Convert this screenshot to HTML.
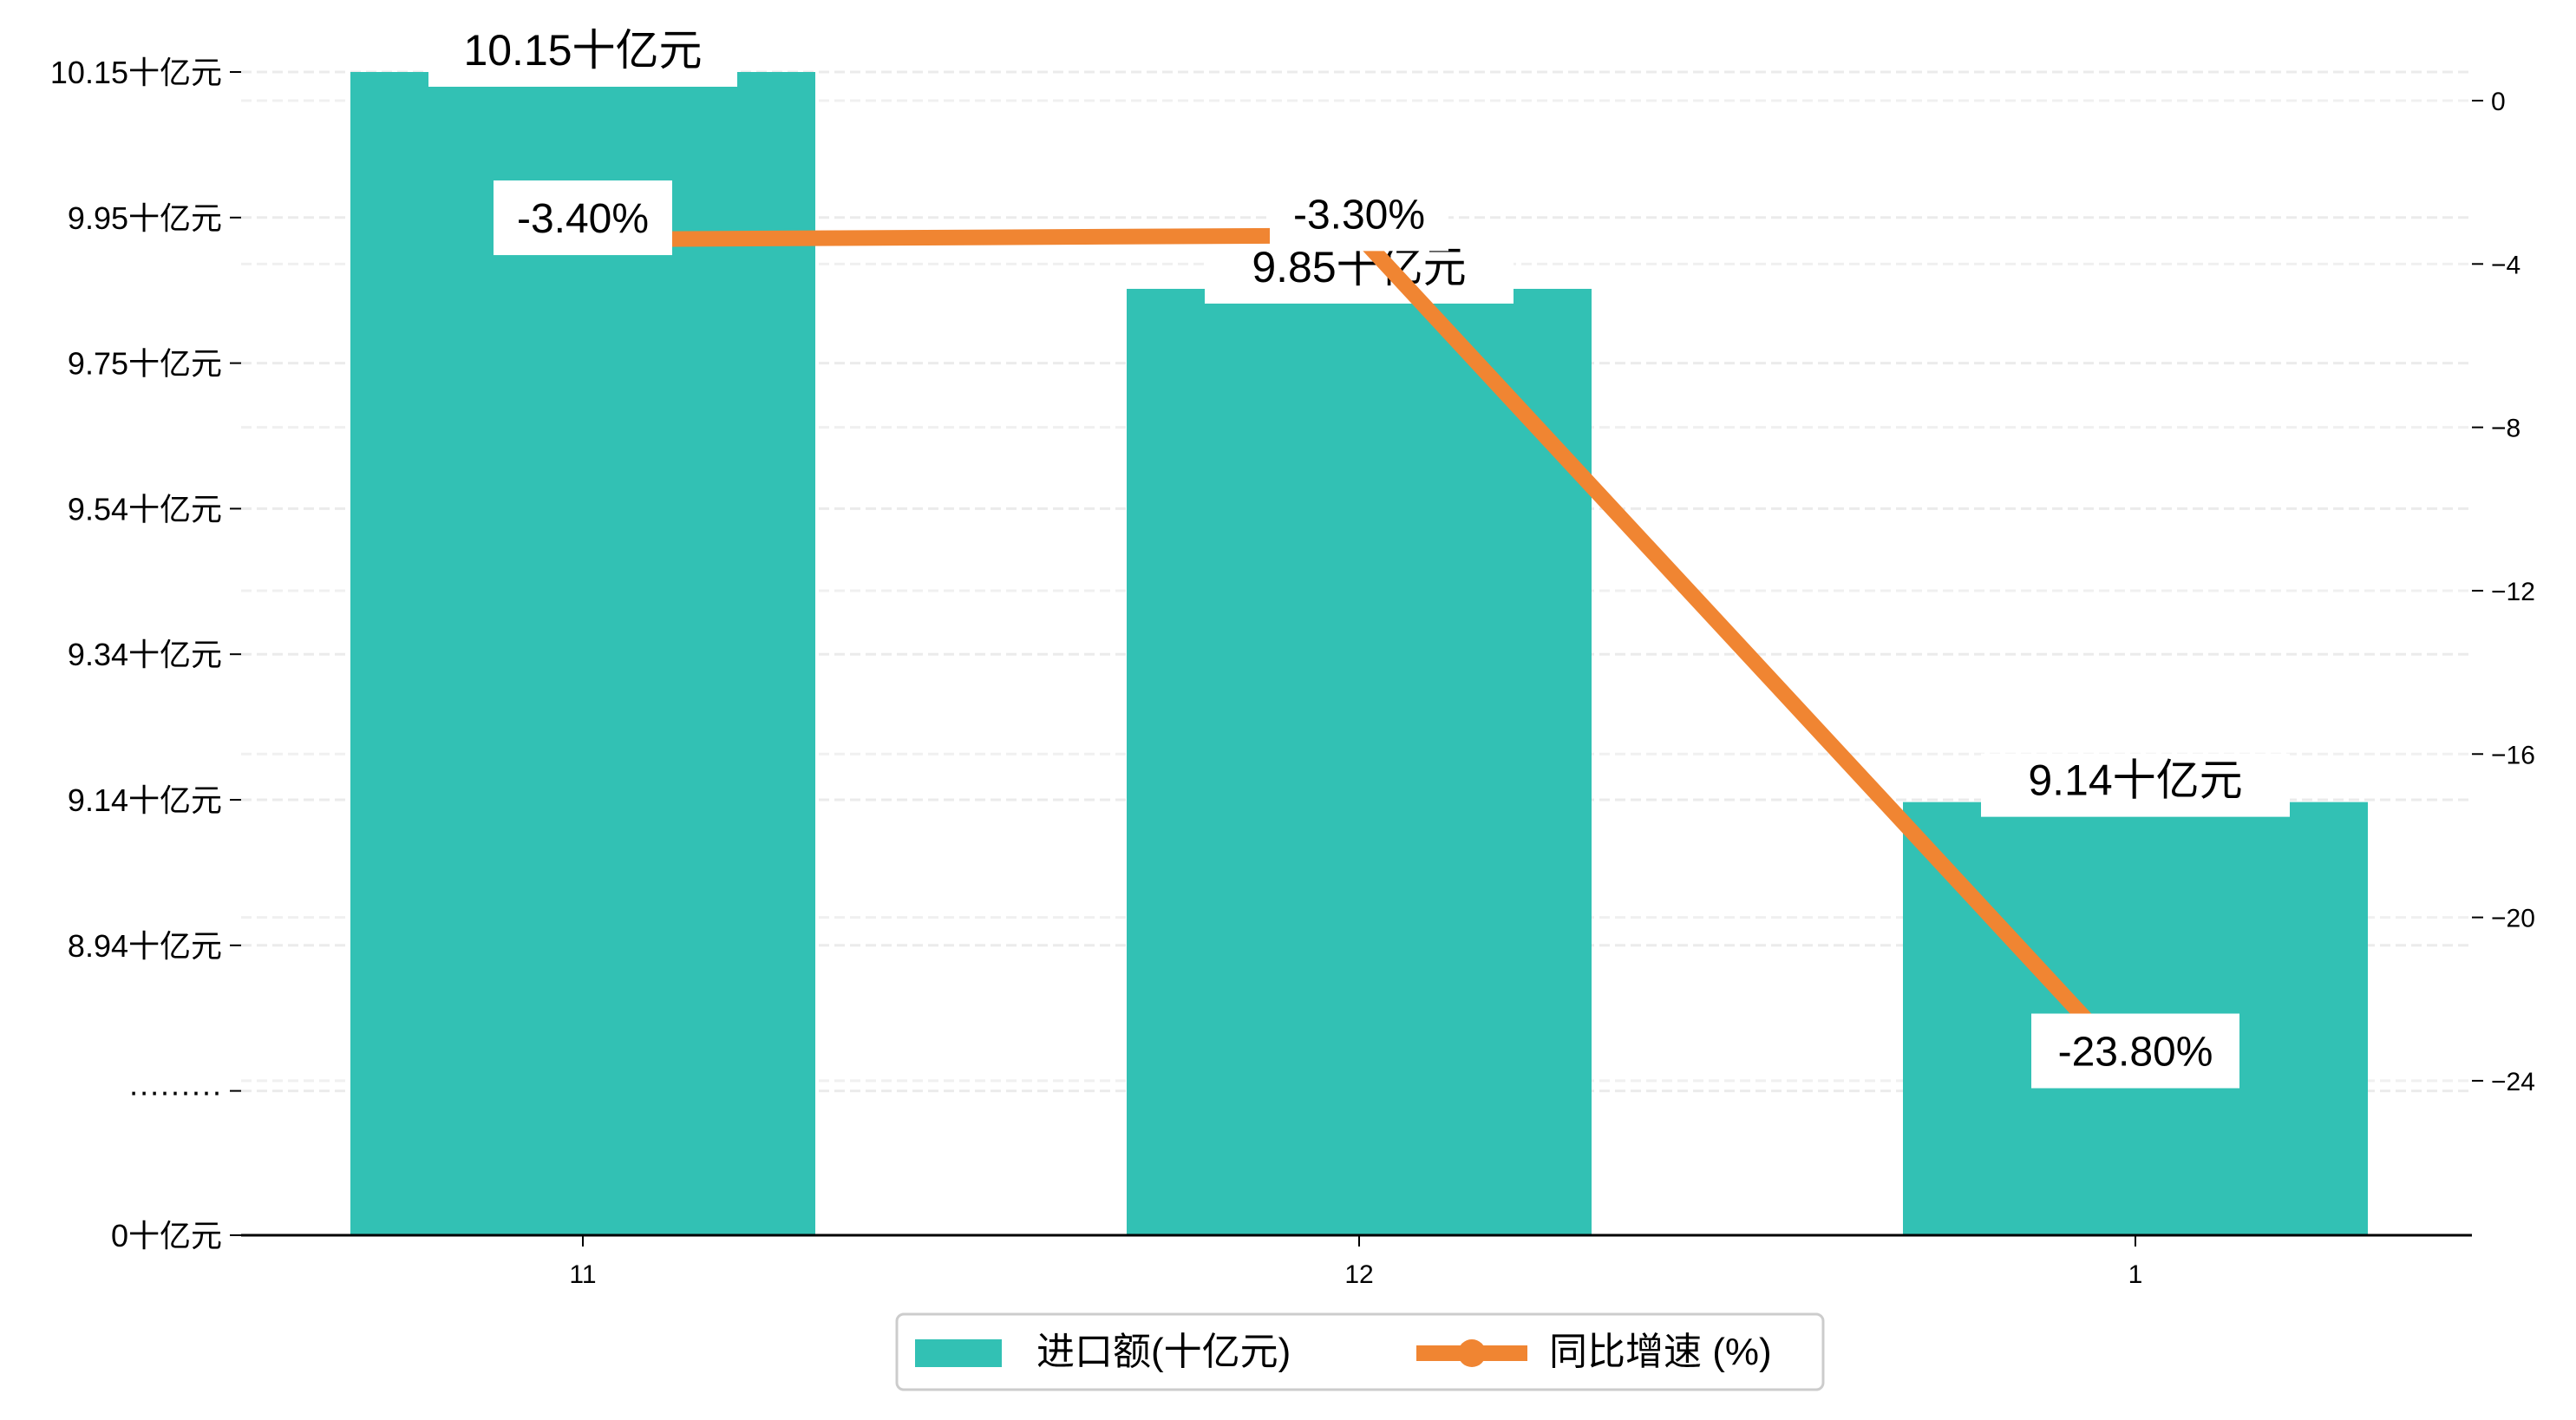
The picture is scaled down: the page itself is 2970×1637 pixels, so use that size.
<!DOCTYPE html>
<html><head><meta charset="utf-8"><style>
html,body{margin:0;padding:0;background:#fff;}
svg text{font-family:"Liberation Sans","WenQuanYi Zen Hei","Noto Sans CJK SC",sans-serif;}
</style></head><body>
<svg id="chart" width="2970" height="1632" viewBox="0 0 2970 1632" xmlns="http://www.w3.org/2000/svg"></svg>
<script>
const categories = ["11","12","1"];
const importValues = [10.15, 9.85, 9.14];
const growthValues = [-3.4, -3.3, -23.8];
const leftTickLabels = ["10.15十亿元","9.95十亿元","9.75十亿元","9.54十亿元","9.34十亿元","9.14十亿元","8.94十亿元","·········","0十亿元"];
const rightTicks = [0,-4,-8,-12,-16,-20,-24];

const NS="http://www.w3.org/2000/svg";
const svg=document.getElementById('chart');
function mk(tag,attrs,parent){const e=document.createElementNS(NS,tag);for(const k in attrs)e.setAttribute(k,attrs[k]);(parent||svg).appendChild(e);return e;}
const L=278,R=2850,B=1424;
const xC=i=>672+i*895;
const yL=v=>83+(10.15-v)*833.3;
const yR=v=>116-v*47.08;
const tickY=i=>i===leftTickLabels.length-1?B:83+i*167.8;

// grid
for(let i=0;i<leftTickLabels.length-1;i++){
  const g=mk('line',{x1:L,x2:R,y1:tickY(i),y2:tickY(i),stroke:'#ebebeb','stroke-width':3,'stroke-dasharray':'12,6'});
  
  
}
rightTicks.forEach(t=>{
  const g=mk('line',{x1:L,x2:R,y1:yR(t),y2:yR(t),stroke:'#f0f0f0','stroke-width':3,'stroke-dasharray':'12,6'});
  
  
});
// bars
importValues.forEach((v,i)=>{
  const r=mk('rect',{x:xC(i)-268,y:yL(v),width:536,height:B-yL(v),fill:'#32c1b4'});
  
  
});
// bar labels
importValues.forEach((v,i)=>{
  const y=yL(v);
  const bx=mk('rect',{x:xC(i)-178,y:y-56,width:356,height:73,fill:'#fff'});
  
  
  const t=mk('text',{x:xC(i),y:y-8,'font-size':50,'text-anchor':'middle',fill:'#000'});
  t.textContent=v.toFixed(2)+'十亿元';
  
  
});
// line
const pts=growthValues.map((v,i)=>xC(i)+','+yR(v)).join(' ');
const pl=mk('polyline',{points:pts,fill:'none',stroke:'#f08532','stroke-width':18,'stroke-linejoin':'round'});


growthValues.forEach((v,i)=>{
  const y=yR(v)-25;
  const w=i===2?240:206;
  const bx=mk('rect',{x:xC(i)-w/2-(i===0?0:0),y:y-43,width:w,height:86,fill:'#fff'});
  
  
  const t=mk('text',{x:xC(i),y:y+17,'font-size':48,'text-anchor':'middle',fill:'#000'});
  t.textContent=v.toFixed(2)+'%';
  
  
});
// axes
const ax=mk('line',{x1:L,x2:R,y1:B,y2:B,stroke:'#000','stroke-width':3});


categories.forEach((c,i)=>{
  mk('line',{x1:xC(i),x2:xC(i),y1:B,y2:B+13,stroke:'#000','stroke-width':2});
  const t=mk('text',{x:xC(i),y:B+55,'font-size':30,'text-anchor':'middle'});
  t.textContent=c;
  
  
});
leftTickLabels.forEach((lab,i)=>{
  const y=tickY(i);
  mk('line',{x1:L-13,x2:L,y1:y,y2:y,stroke:'#000','stroke-width':2});
  const t=mk('text',{x:L-22,y:y+13,'font-size':36,'text-anchor':'end'});
  t.textContent=lab;
  
  
});
rightTicks.forEach(v=>{
  const y=yR(v);
  mk('line',{x1:R,x2:R+13,y1:y,y2:y,stroke:'#000','stroke-width':2});
  const t=mk('text',{x:R+22,y:y+11,'font-size':30});
  t.textContent=v===0?'0':'−'+Math.abs(v);
  
  
});
// legend
const lg=mk('g',{});


mk('rect',{x:1034,y:1515,width:1068,height:87,rx:8,fill:'#fff',stroke:'#cccccc','stroke-width':3},lg);
const p1=mk('rect',{x:1055,y:1544,width:100,height:32,fill:'#32c1b4'},lg);


const t1=mk('text',{x:1195,y:1573,'font-size':44},lg);t1.textContent='进口额(十亿元)';


const p2=mk('line',{x1:1633,x2:1761,y1:1560,y2:1560,stroke:'#f08532','stroke-width':18},lg);


mk('circle',{cx:1697,cy:1560,r:16,fill:'#f08532'},lg);
const t2=mk('text',{x:1786,y:1573,'font-size':44},lg);t2.textContent='同比增速 (%)';


</script>
</body></html>
